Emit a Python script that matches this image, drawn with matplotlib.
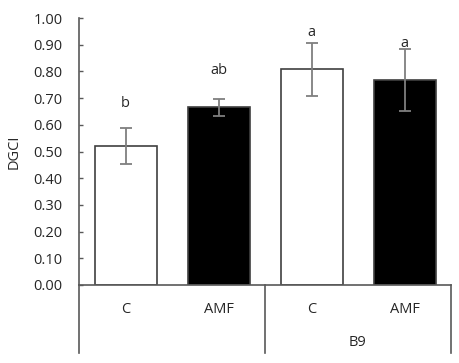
import numpy as np
import matplotlib.pyplot as plt
import matplotlib.transforms as mtransforms

# data
treatments = ["C", "AMF", "C", "AMF"]
groups = ["", "B9"]
dgci = [0.52, 0.665, 0.808, 0.768]
err = [0.067, 0.032, 0.099, 0.117]
letters = ["b", "ab", "a", "a"]
letter_y = [0.68, 0.805, 0.944, 0.906]
face = ["white", "black", "white", "black"]

plt.rcParams['font.family'] = ['Open Sans', 'DejaVu Sans']
axis_col = "#595959"
txt_col = "#262626"
fs = 10.5

fig = plt.figure(figsize=(4.59, 3.63), dpi=100)
ax = fig.add_axes([79/459, 78/363, 372/459, 267/363])

x = np.arange(len(dgci))
ax.bar(x, dgci, width=2/3, color=face, edgecolor="#404040", linewidth=1.2, zorder=2)
ax.errorbar(x, dgci, yerr=err, fmt="none", ecolor="#7f7f7f", elinewidth=1.3,
            capsize=4, capthick=1.3, zorder=3)
for xi, lab, ly in zip(x, letters, letter_y):
    ax.text(xi, ly, lab, ha="center", va="center", fontsize=fs, color=txt_col)

ax.set_xlim(-0.5, 3.5)
ax.set_ylim(0, 1.0)
ax.set_yticks(np.arange(0, 1.01, 0.1))
ax.set_yticklabels([f"{v:.2f}" for v in np.arange(0, 1.01, 0.1)])
ax.tick_params(axis="y", direction="in", length=3, width=1, color=axis_col,
               labelsize=fs, labelcolor=txt_col, pad=12)
ax.set_xticks([])
ax.set_ylabel("DGCI", fontsize=fs, color=txt_col, labelpad=8)

for s in ["top", "right"]:
    ax.spines[s].set_visible(False)
for s in ["left", "bottom"]:
    ax.spines[s].set_color(axis_col)
    ax.spines[s].set_linewidth(1.2)

# category axis (multi-level)
trans = mtransforms.blended_transform_factory(ax.transData, ax.transAxes)
for xv in [-0.5, 1.5, 3.5]:
    ax.plot([xv, xv], [0, -0.255], transform=trans, color=axis_col, lw=1.2,
            clip_on=False)
for xi, t in zip(x, treatments):
    ax.text(xi, -0.09, t, transform=trans, ha="center", va="center",
            fontsize=fs, color=txt_col)
for gi, g in enumerate(groups):
    ax.text(0.5 + 2*gi, -0.217, g, transform=trans, ha="center", va="center",
            fontsize=fs, color=txt_col)

fig.savefig("out.png", dpi=100)
